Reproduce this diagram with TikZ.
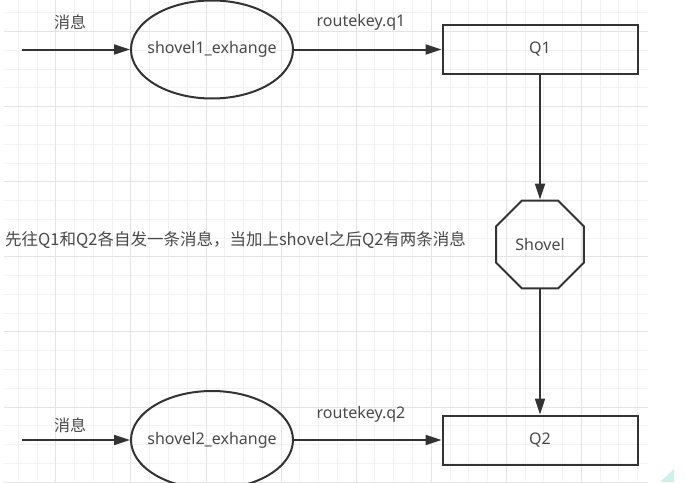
\documentclass[tikz,border=0pt]{standalone}
\usepackage{fontspec}
\setmainfont{Noto Sans}
\newfontfamily\cjk{Noto Sans CJK SC}
\usepackage{tikz}
\usetikzlibrary{arrows.meta,shapes.geometric,positioning}

\definecolor{ink}{HTML}{333333}
\definecolor{txt}{HTML}{4A4A4A}
\definecolor{minorgrid}{HTML}{F1F1F1}
\definecolor{majorgrid}{HTML}{E4E4E4}
\definecolor{wmteal}{HTML}{CFEFEA}

\begin{document}
\begin{tikzpicture}
  [
    x=1pt,y=-1pt,
    font=\fontsize{16}{19}\selectfont,
    exchange/.style={ellipse,draw=ink,line width=2pt,minimum width=162pt,minimum height=98pt,inner sep=0pt},
    queue/.style={rectangle,draw=ink,line width=2pt,text=txt,minimum width=195pt,minimum height=49pt,inner sep=0pt},
    shovel/.style={regular polygon,regular polygon sides=8,draw=ink,line width=2pt,text=txt,minimum size=95pt,inner sep=0pt},
    flow/.style={draw=ink,line width=2pt,-{Triangle[length=16pt,width=10pt]}},
    caption/.style={text=txt,inner sep=0pt}
  ]
  \useasboundingbox[fill=white] (0,0) rectangle (685,482);
  \foreach \k in {0,...,33} \draw[minorgrid,line width=1pt] (18.3+18.77*\k,0) -- (18.3+18.77*\k,482);
  \foreach \k in {0,...,25} \draw[minorgrid,line width=1pt] (4,12.85+18.77*\k) -- (648,12.85+18.77*\k);
  \foreach \k in {2,6,...,30} \draw[majorgrid,line width=1pt] (18.3+18.77*\k,0) -- (18.3+18.77*\k,482);
  \foreach \k in {1,5,...,25} \draw[majorgrid,line width=1pt] (4,12.85+18.77*\k) -- (648,12.85+18.77*\k);
  \fill[wmteal] (660,482) -- (674,469) -- (674,482) -- cycle;

  \node[exchange,label={[caption]center:shovel1\_exhange}] at (212,49.5) (exchange 1) {};
  \node[queue] at (540,49.5) (queue 1) {Q1};
  \node[shovel] at (540,244.5) (shovel) {Shovel};
  \node[queue] at (540,440) (queue 2) {Q2};
  \node[exchange,label={[caption]center:shovel2\_exhange}] at (212,440) (exchange 2) {};
  \coordinate (source 1) at (22,49.5);
  \coordinate (source 2) at (22,440);

  \node[caption] at (70,22) (message 1) {\cjk 消息};
  \node[caption] at (70,425) (message 2) {\cjk 消息};
  \node[caption] at (361,22) (key 1) {routekey.q1};
  \node[caption] at (361,414) (key 2) {routekey.q2};
  \node[caption,anchor=west,font=\fontsize{16.5}{19}\selectfont] at (5,240) (note) {\cjk 先往Q1和Q2各自发一条消息，当加上shovel之后Q2有两条消息};

  \draw[flow] (source 1) -- (exchange 1);
  \draw[flow] (exchange 1) -- (queue 1);
  \draw[flow] (queue 1) -- (shovel);
  \draw[flow] (shovel) -- (queue 2);
  \draw[flow] (source 2) -- (exchange 2);
  \draw[flow] (exchange 2) -- (queue 2);
\end{tikzpicture}
\end{document}
